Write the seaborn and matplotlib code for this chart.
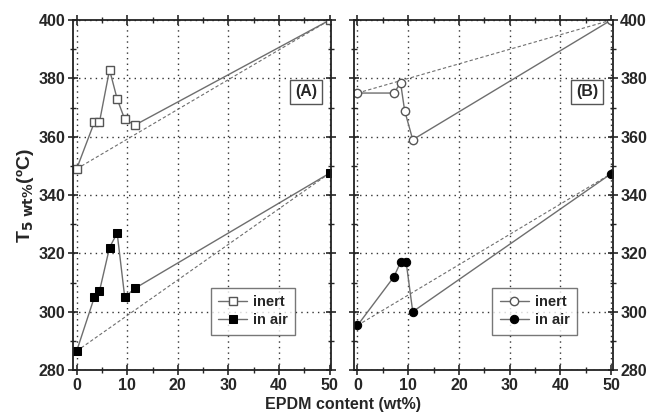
import matplotlib
matplotlib.use("Agg")
import matplotlib.pyplot as plt
import seaborn as sns
import pandas as pd
from matplotlib.ticker import MultipleLocator

# ---- data ----
a_x = [0, 3.5, 4.5, 6.5, 8.0, 9.5, 11.5, 50]
a_inert = [349, 365, 365, 383, 373, 366, 364, 400]
a_air = [286.5, 305, 307, 322, 327, 305, 308, 347.5]

b_x_inert = [0, 7.2, 8.5, 9.3, 10.9, 50]
b_inert = [375, 375, 378.5, 369, 359, 400]
b_x_air = [0, 7.2, 8.5, 9.6, 10.9, 50]
b_air = [295.3, 312, 317, 317, 300, 347.3]

ref_x = [0, 50]
a_inert_ref = [349, 400]
a_air_ref = [286.5, 347.5]
b_inert_ref = [375, 400]
b_air_ref = [295.3, 347.3]

xticks = [0, 10, 20, 30, 40, 50]
yticks = [280, 300, 320, 340, 360, 380, 400]

sns.set_style("ticks")
plt.rcParams['font.family'] = ['Liberation Sans', 'DejaVu Sans']
plt.rcParams['font.weight'] = 'bold'

fig = plt.figure(figsize=(6.53, 4.2), dpi=100)
axA = fig.add_axes([0.112, 0.119, 0.395, 0.833])
axB = fig.add_axes([0.542, 0.119, 0.396, 0.833])

gray = '#6e6e6e'

def draw(ax, xi, yi, xa, ya, ri, ra, marker, label_txt):
    df_i = pd.DataFrame({'x': xi, 'y': yi})
    df_a = pd.DataFrame({'x': xa, 'y': ya})
    df_ri = pd.DataFrame({'x': ref_x, 'y': ri})
    df_ra = pd.DataFrame({'x': ref_x, 'y': ra})
    sns.lineplot(data=df_ri, x='x', y='y', ax=ax, color=gray, lw=0.8,
                 linestyle=(0, (3, 2)), sort=False, legend=False)
    sns.lineplot(data=df_ra, x='x', y='y', ax=ax, color=gray, lw=0.8,
                 linestyle=(0, (3, 2)), sort=False, legend=False)
    sns.lineplot(data=df_i, x='x', y='y', ax=ax, color=gray, lw=1.0, sort=False,
                 marker=marker, markersize=6, markerfacecolor='white',
                 markeredgecolor='#555555', markeredgewidth=1.0, label='inert')
    sns.lineplot(data=df_a, x='x', y='y', ax=ax, color=gray, lw=1.0, sort=False,
                 marker=marker, markersize=6, markerfacecolor='black',
                 markeredgecolor='black', label='in air')
    ax.set_xlim(-0.7, 50.3)
    ax.set_ylim(280, 400)
    ax.set_xticks(xticks)
    ax.set_yticks(yticks)
    ax.xaxis.set_minor_locator(MultipleLocator(5))
    ax.yaxis.set_minor_locator(MultipleLocator(10))
    ax.grid(True, which='major', linestyle=(0, (1, 3)), color='#333333', lw=1.0)
    for s in ax.spines.values():
        s.set_linewidth(1.3)
        s.set_color('#222222')
    ax.tick_params(which='major', direction='inout', length=7, width=1.2,
                   top=True, right=True, labelsize=11.5, pad=2)
    ax.tick_params(which='minor', direction='inout', length=4, width=1.0,
                   top=True, right=True)
    ax.set_xlabel('')
    ax.set_ylabel('')
    leg = ax.legend(loc='lower right', bbox_to_anchor=(0.89, 0.08), frameon=True,
                    fancybox=False, edgecolor='#555555', fontsize=10.5,
                    handlelength=2.0, handletextpad=0.4, borderpad=0.5,
                    labelspacing=0.3)
    leg.get_frame().set_linewidth(1.0)
    for t in leg.get_texts():
        t.set_fontweight('bold')
    ax.text(0.945, 0.795, label_txt, transform=ax.transAxes, ha='right', va='center',
            fontsize=11.5, fontweight='bold',
            bbox=dict(boxstyle='square,pad=0.3', fc='white', ec='#555555', lw=1.0))
    for lab in ax.get_xticklabels() + ax.get_yticklabels():
        lab.set_fontweight('bold')

draw(axA, a_x, a_inert, a_x, a_air, a_inert_ref, a_air_ref, 's', '(A)')
draw(axB, b_x_inert, b_inert, b_x_air, b_air, b_inert_ref, b_air_ref, 'o', '(B)')

axB.tick_params(axis='y', labelleft=False, labelright=True)
for lab in axB.get_yticklabels():
    lab.set_fontweight('bold')

axA.set_ylabel('T$_{\\mathbf{5\\ wt\\%}}$(ºC)', fontsize=14, fontweight='bold', labelpad=2)
fig.text(0.525, 0.018, 'EPDM content (wt%)', ha='center', va='bottom',
         fontsize=11.5, fontweight='bold')

fig.savefig('out.png', dpi=100)
